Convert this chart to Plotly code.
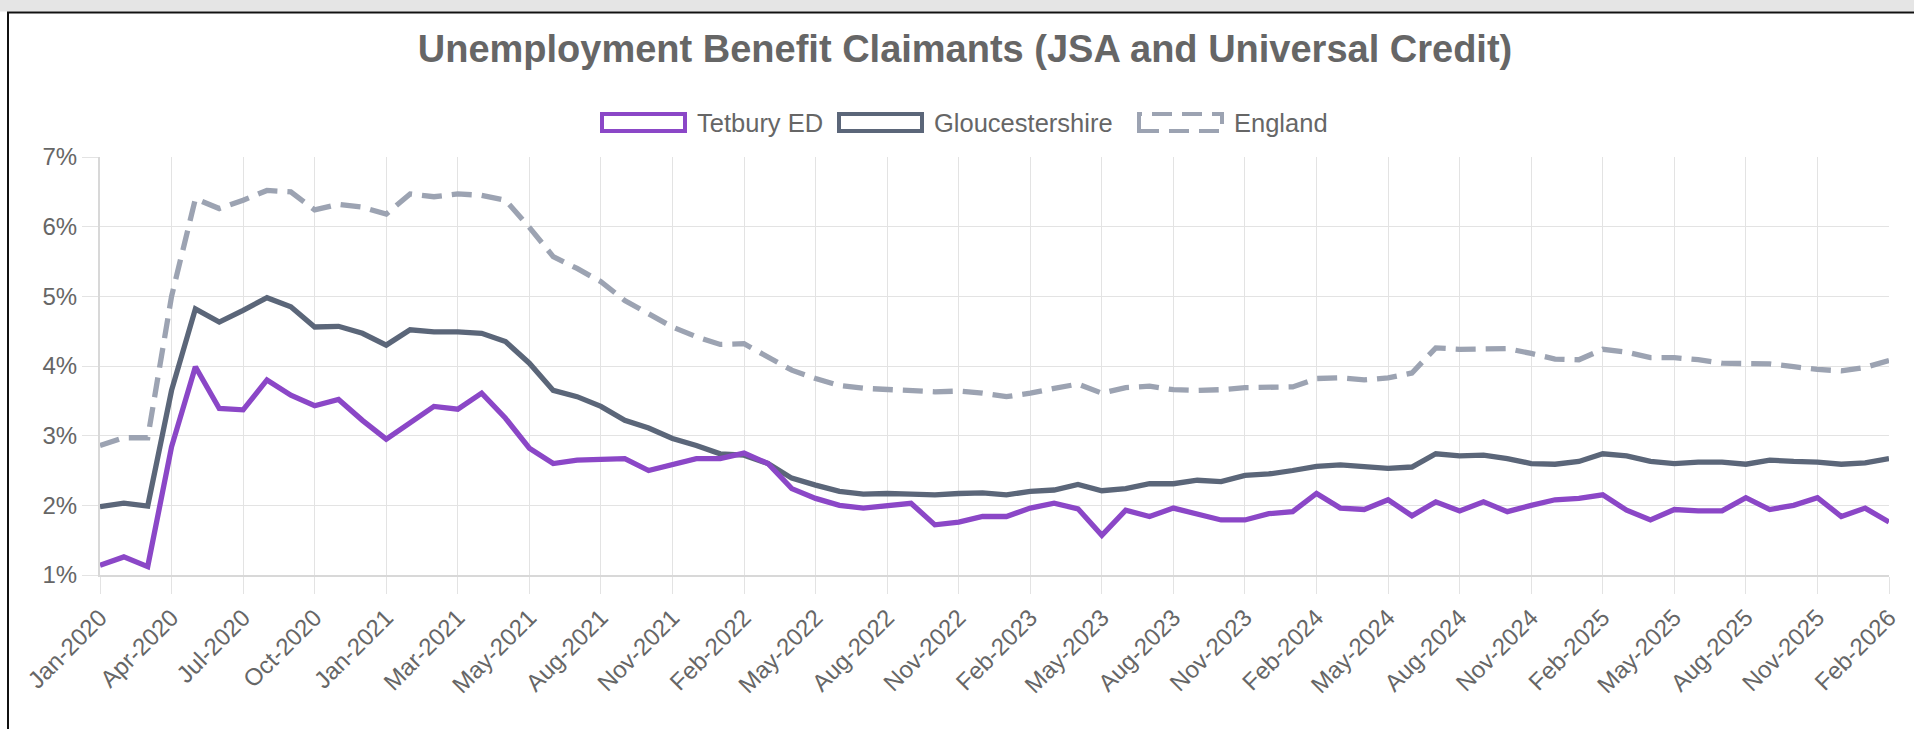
import plotly.graph_objects as go

# ---- data -------------------------------------------------------------
months = [
    "Jan-2020", "Feb-2020", "Mar-2020", "Apr-2020", "May-2020", "Jun-2020",
    "Jul-2020", "Aug-2020", "Sep-2020", "Oct-2020", "Nov-2020", "Dec-2020",
    "Jan-2021", "Feb-2021", "Feb-2021", "Mar-2021", "Apr-2021", "Apr-2021",
    "May-2021", "Jun-2021", "Jul-2021", "Aug-2021", "Sep-2021", "Oct-2021",
    "Nov-2021", "Dec-2021", "Jan-2022", "Feb-2022", "Mar-2022", "Apr-2022",
    "May-2022", "Jun-2022", "Jul-2022", "Aug-2022", "Sep-2022", "Oct-2022",
    "Nov-2022", "Dec-2022", "Jan-2023", "Feb-2023", "Mar-2023", "Apr-2023",
    "May-2023", "Jun-2023", "Jul-2023", "Aug-2023", "Sep-2023", "Oct-2023",
    "Nov-2023", "Dec-2023", "Jan-2024", "Feb-2024", "Mar-2024", "Apr-2024",
    "May-2024", "Jun-2024", "Jul-2024", "Aug-2024", "Sep-2024", "Oct-2024",
    "Nov-2024", "Dec-2024", "Jan-2025", "Feb-2025", "Mar-2025", "Apr-2025",
    "May-2025", "Jun-2025", "Jul-2025", "Aug-2025", "Sep-2025", "Oct-2025",
    "Nov-2025", "Dec-2025", "Jan-2026", "Feb-2026",
]

tetbury = [
    1.14, 1.26, 1.12, 2.84, 3.99, 3.39, 3.37, 3.80, 3.58, 3.43, 3.52, 3.22,
    2.95, 3.18, 3.42, 3.38, 3.61, 3.25, 2.82, 2.60, 2.65, 2.66, 2.67, 2.50,
    2.58, 2.67, 2.67, 2.75, 2.60, 2.24, 2.10, 2.00, 1.96, 2.00, 2.03, 1.72,
    1.76, 1.84, 1.84, 1.96, 2.03, 1.95, 1.57, 1.93, 1.84, 1.96, 1.88, 1.79,
    1.79, 1.88, 1.91, 2.17, 1.96, 1.94, 2.08, 1.85, 2.05, 1.92, 2.05, 1.91,
    2.00, 2.08, 2.10, 2.15, 1.93, 1.79, 1.94, 1.92, 1.92, 2.11, 1.94, 2.00,
    2.11, 1.84, 1.96, 1.76,
]

gloucestershire = [
    1.98, 2.03, 1.99, 3.65, 4.82, 4.63, 4.80, 4.98, 4.85, 4.56, 4.57, 4.47,
    4.30, 4.52, 4.49, 4.49, 4.47, 4.35, 4.04, 3.65, 3.56, 3.42, 3.22, 3.11,
    2.96, 2.86, 2.74, 2.72, 2.60, 2.39, 2.29, 2.20, 2.16, 2.17, 2.16, 2.15,
    2.17, 2.18, 2.15, 2.20, 2.22, 2.30, 2.21, 2.24, 2.31, 2.31, 2.36, 2.34,
    2.43, 2.45, 2.50, 2.56, 2.58, 2.55, 2.53, 2.55, 2.74, 2.71, 2.72, 2.67,
    2.60, 2.59, 2.63, 2.74, 2.71, 2.63, 2.60, 2.62, 2.62, 2.59, 2.65, 2.63,
    2.62, 2.59, 2.61, 2.67,
]

england = [
    2.86, 2.97, 2.97, 5.00, 6.40, 6.26, 6.38, 6.52, 6.50, 6.24, 6.32, 6.28,
    6.18, 6.47, 6.43, 6.47, 6.45, 6.38, 5.99, 5.57, 5.40, 5.21, 4.94, 4.75,
    4.56, 4.42, 4.31, 4.32, 4.13, 3.94, 3.82, 3.72, 3.68, 3.66, 3.65, 3.63,
    3.64, 3.61, 3.56, 3.61, 3.68, 3.74, 3.61, 3.69, 3.71, 3.66, 3.65, 3.66,
    3.69, 3.70, 3.70, 3.82, 3.83, 3.80, 3.83, 3.90, 4.26, 4.24, 4.25, 4.25,
    4.18, 4.10, 4.09, 4.24, 4.20, 4.12, 4.12, 4.09, 4.04, 4.03, 4.03, 3.99,
    3.95, 3.93, 3.98, 4.08,
]

series_names = ["Tetbury ED", "Gloucestershire", "England"]
y_tick_values = [1, 2, 3, 4, 5, 6, 7]
label_every = 3

# ---- styling ----------------------------------------------------------
colors = {"Tetbury ED": "#8b47c7", "Gloucestershire": "#5b6679", "England": "#9ca3b2"}
dashes = {"Tetbury ED": "solid", "Gloucestershire": "solid", "England": "20px,10px"}
FONT = "Arial, Liberation Sans, Helvetica, sans-serif"
TXT = "#666666"
GRID = "#e3e3e3"

W, H = 1914, 729
L, R, T, B = 100, 1889, 157, 575


def fx(x):
    return (x - L) / (R - L)


def fy(y):
    return (B - y) / (B - T)


x_idx = list(range(len(months)))
tick_vals = x_idx[::label_every]
tick_text = [months[i] for i in tick_vals]

fig = go.Figure()
# draw England first so Tetbury sits on top (as in the original)
for name, vals in [("England", england), ("Gloucestershire", gloucestershire), ("Tetbury ED", tetbury)]:
    fig.add_trace(go.Scatter(
        x=x_idx, y=vals, name=name, mode="lines",
        line=dict(color=colors[name], width=5.3, dash=dashes[name]),
        customdata=months,
        hovertemplate="%{customdata}: %{y:.2f}%<extra>" + name + "</extra>",
        showlegend=False,
    ))

# ---- custom legend (Chart.js style boxes) ------------------------------
shapes = []
annotations = []
legend_starts = [600, 837, 1137]
for name, x0 in zip(series_names, legend_starts):
    shapes.append(dict(
        type="rect", xref="paper", yref="paper",
        x0=fx(x0 + 2), x1=fx(x0 + 85), y0=fy(131), y1=fy(114),
        line=dict(color=colors[name], width=4, dash=dashes[name]),
        fillcolor="white", layer="above",
    ))
    annotations.append(dict(
        text=name, xref="paper", yref="paper", x=fx(x0 + 95), y=fy(123),
        xanchor="left", yanchor="middle", showarrow=False,
        font=dict(family=FONT, size=25.5, color=TXT),
    ))

# page frame: grey strip and black border of the container
shapes.append(dict(type="rect", xref="paper", yref="paper", x0=fx(0), x1=fx(W), y0=fy(11.5), y1=fy(0),
                   fillcolor="#e5e5e5", line=dict(width=0), layer="above"))
shapes.append(dict(type="line", xref="paper", yref="paper", x0=fx(7), x1=fx(W), y0=fy(12.5), y1=fy(12.5),
                   line=dict(color="#111111", width=2), layer="above"))
shapes.append(dict(type="line", xref="paper", yref="paper", x0=fx(8), x1=fx(8), y0=fy(12), y1=fy(H),
                   line=dict(color="#111111", width=2), layer="above"))

fig.update_layout(
    width=W, height=H,
    margin=dict(l=L, r=W - R, t=T, b=H - B, autoexpand=False),
    paper_bgcolor="white", plot_bgcolor="white",
    font=dict(family=FONT, color=TXT),
    title=dict(
        text="Unemployment Benefit Claimants (JSA and Universal Credit)",
        xref="container", yref="container", x=965 / W, y=1 - 48.5 / H,
        xanchor="center", yanchor="middle",
        font=dict(family=FONT, size=38, color=TXT, weight="bold"),
    ),
    shapes=shapes,
    annotations=annotations,
    hovermode="closest",
)

fig.update_xaxes(
    range=[0, len(months) - 1], tickmode="array", tickvals=tick_vals, ticktext=tick_text,
    tickangle=-45, tickfont=dict(family=FONT, size=24, color=TXT),
    showgrid=True, gridcolor=GRID, gridwidth=1,
    showline=True, linecolor="#d8d8d8", linewidth=2,
    ticks="outside", ticklen=17, tickwidth=1, tickcolor=GRID,
    zeroline=False, automargin=False,
)
fig.update_yaxes(
    range=[1, 7], tickmode="array", tickvals=y_tick_values,
    ticktext=[f"{v}%" for v in y_tick_values],
    tickfont=dict(family=FONT, size=24, color=TXT),
    showgrid=True, gridcolor=GRID, gridwidth=1,
    showline=True, linecolor="#d8d8d8", linewidth=2,
    ticks="outside", ticklen=16, tickwidth=1, tickcolor=GRID,
    zeroline=False, automargin=False,
)

fig.write_html(
    "out.html",
    config={"displayModeBar": False},
    post_script="document.body.style.margin='0';document.body.style.overflow='hidden';",
)
